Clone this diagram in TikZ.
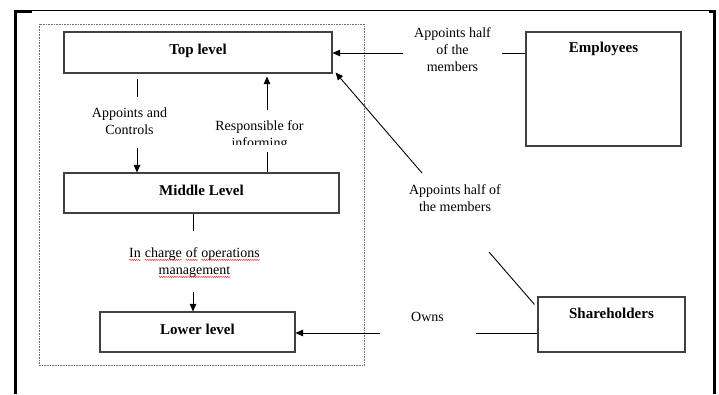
\documentclass[tikz,border=0pt]{standalone}
\usepackage{fontspec}
\setmainfont{Liberation Serif}
\usetikzlibrary{arrows.meta,decorations.pathmorphing}

\begin{document}
\begin{tikzpicture}[x=1pt,y=-1pt,line width=0.9pt]
\definecolor{boxgrey}{RGB}{64,64,64}
\definecolor{dotgrey}{RGB}{110,110,110}
\definecolor{spellred}{RGB}{230,40,40}
\providecommand{\flbl}{\fontsize{14}{17}\selectfont}
\providecommand{\fhead}{\fontsize{15}{18}\selectfont}
\providecommand{\spellerr}[1]{\tikz[baseline=(w.base)]{\node[inner sep=0pt,outer sep=0pt] (w) {#1};
  \draw[spellred,line width=0.45pt,decorate,decoration={snake,amplitude=0.6pt,segment length=2.2pt}] ([yshift=-2pt]w.base west) -- ([yshift=-2pt]w.base east);}}
\tikzset{levelbox/.style={draw=boxgrey,line width=1.1pt,rectangle,inner sep=0pt,font=\fhead\bfseries,text height=10pt,text depth=6pt},
  headtxt/.style={inner sep=0pt,font=\fhead\bfseries},
  lbl/.style={align=center,inner sep=0pt,font=\flbl},
  conn/.style={draw=black,line width=0.9pt},
  arr/.style={conn,-{Triangle[length=7.5pt,width=6.5pt]}}}
\useasboundingbox (0,0) rectangle (719,394);
% table cell border
\draw[line width=0.9pt] (14,10.5) -- (716,10.5);
\fill (14,10) rectangle (16.7,394);
\fill (14,10) rectangle (32,12.7);
\fill (713.3,10) rectangle (716,394);
\fill (709,10) rectangle (716,12.7);
% company frame
\draw[dotgrey,line width=0.8pt,dash pattern=on 0.8pt off 0.8pt] (39.5,24) rectangle (364,365.5);
% levels
\node[levelbox,minimum width=268,minimum height=41] (top) at (198,52.5) {Top level};
\node[levelbox,minimum width=275,minimum height=40] (middle) at (201.5,193) {Middle Level};
\node[levelbox,minimum width=195,minimum height=40] (lower) at (197.5,332) {Lower level};
% outside parties
\node[draw=boxgrey,line width=1.1pt,inner sep=0pt,minimum width=155,minimum height=114] (emp) at (603.5,89) {};
\node[headtxt] (emptitle) at (603.5,49) {Employees};
\node[draw=boxgrey,line width=1.1pt,inner sep=0pt,minimum width=147,minimum height=55] (sh) at (611.5,324.5) {};
\node[headtxt] (shtitle) at (611.5,313.5) {Shareholders};
% labels
\node[lbl] (appctl) at (129.5,121) {Appoints and\\Controls};
\begin{scope}
\clip (200,100) rectangle (330,144.3);
\node[lbl] (resp) at (259.5,135.5) {Responsible for\\informing};
\end{scope}
\node[lbl] (oper) at (194.5,263) {\spellerr{In} \spellerr{charge} \spellerr{of} \spellerr{operations}\\\spellerr{management}};
\node[lbl] (empapp) at (452.5,49.5) {Appoints half\\of the\\members};
\node[lbl] (shapp) at (455,198.5) {Appoints half of\\the members};
\node[lbl] (owns) at (427.5,316.5) {Owns};
% connector ends beside the labels
\coordinate (ac1) at (137,97);
\coordinate (ac2) at (137,148);
\coordinate (ri1) at (267,152);
\coordinate (ri2) at (267,110);
\coordinate (op1) at (193,231);
\coordinate (op2) at (193,292);
\coordinate (em1) at (502,53);
\coordinate (em2) at (403,53);
\coordinate (sa1) at (489,252);
\coordinate (sa2) at (422,173);
\coordinate (ow1) at (476,333);
\coordinate (ow2) at (380,333);
% connectors
\draw[conn,shorten <=5pt] (top.south -| ac1) -- (ac1);
\draw[arr] (ac2) -- (middle.north -| ac2);
\draw[conn] (middle.north -| ri1) -- (ri1);
\draw[arr,shorten >=3pt] (ri2) -- (top.south -| ri2);
\draw[conn] (middle.south -| op1) -- (op1);
\draw[arr] (op2) -- (lower.north -| op2);
\draw[conn] (emp.west |- em1) -- (em1);
\draw[arr] (em2) -- (top.east |- em2);
\draw[conn] ([xshift=-3pt,yshift=-8pt]sh.north west) -- (sa1);
\draw[arr] (sa2) -- ([xshift=3pt,yshift=1pt]top.south east);
\draw[conn] (sh.west |- ow1) -- (ow1);
\draw[arr] (ow2) -- (lower.east |- ow2);
\end{tikzpicture}
\end{document}
